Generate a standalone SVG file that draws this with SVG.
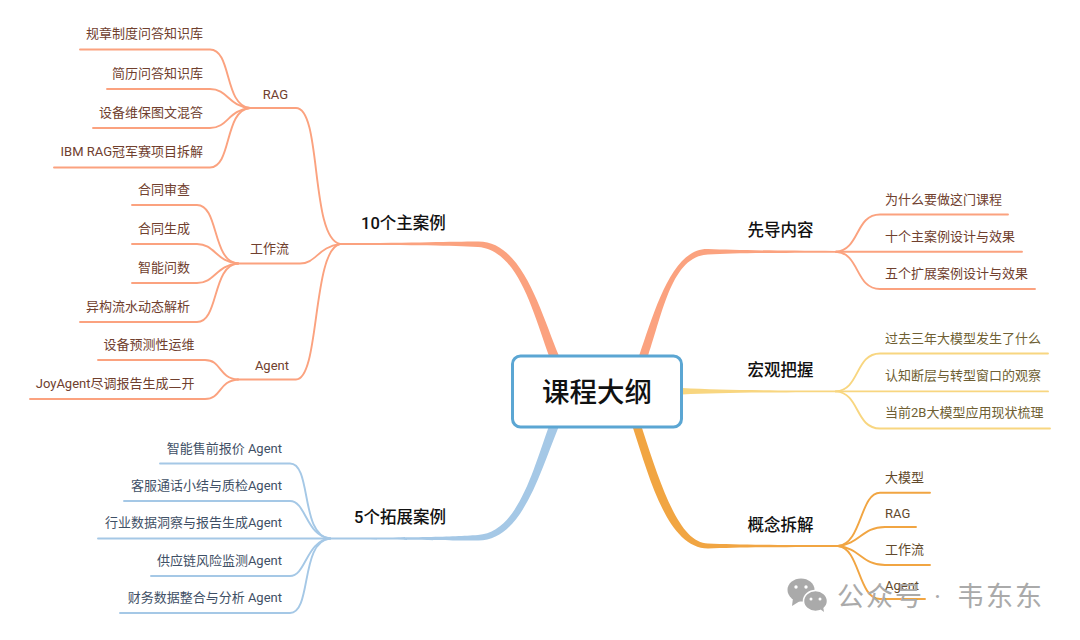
<svg xmlns="http://www.w3.org/2000/svg" width="1080" height="640" viewBox="0 0 1080 640">
<style>
text{font-family:Roboto,"Noto Sans CJK SC","Noto Sans",sans-serif}
.l{font-size:13px}
.e{text-anchor:end}
.h{font-size:16.5px;font-weight:500;fill:#111;text-anchor:middle}
.c{fill:none;stroke-width:1.9;stroke-linecap:round}
.s{stroke:#fba27f}.y{stroke:#f8d680}.o{stroke:#f1a542}.b{stroke:#a5c8e6}
.ts{fill:#70402e}.ty{fill:#6f5f33}.to{fill:#62492b}.tb{fill:#3f5066}
</style>
<rect width="1080" height="640" fill="#fff"/>
<g id="connectors">
<path fill="#fba27f" d="M549,356 C533,312 518,250 478,247 C450,245.4 420,245 340,244.9 V243.1 C420,243 450,241.5 478,241.5 C522,241 540,310 559,356Z"/>
<path fill="#a5c8e6" d="M549,426 C533,470 518,532 478,535 C450,537 420,537.5 330,537.6 V539.4 C420,539.5 450,540.5 478,540.5 C522,541 540,472 559,426Z"/>
<path fill="#fba27f" d="M648,356 C663,312 672,256 708,254.5 C735,253 770,252.8 836,252.7 V250.9 C770,250.8 735,250 708,249 C672,248 655,310 639,356Z"/>
<path fill="#f8d680" d="M682,388 C720,390 760,390.4 836,390.5 V392.3 C760,392.4 720,392.8 682,394.5Z"/>
<path fill="#f1a542" d="M633,428 C650,480 668,548 708,548.5 C735,547.5 770,546.9 838,546.9 V545.1 C770,545 735,544.6 708,543.5 C680,543 662,490 642,428Z"/>
<g class="s">
<path class="c" d="M250,108 H296 C322,108 310,238 340,244"/>
<path class="c" d="M238,263.5 H300 C316,263.5 318,247 340,244"/>
<path class="c" d="M238,379.5 H296 C320,379.5 312,250 340,244"/>
<path class="c" d="M80,49.5 H210 C232,49.5 224,106 250,108"/>
<path class="c" d="M107,89 H210 C228,89 228,106 250,108"/>
<path class="c" d="M93,128 H210 C228,128 228,110 250,108"/>
<path class="c" d="M54,167.5 H210 C232,167.5 224,110 250,108"/>
<path class="c" d="M132,205 H197 C219,205 212,262 238,263.5"/>
<path class="c" d="M132,244 H197 C215,244 216,262 238,263.5"/>
<path class="c" d="M132,283 H197 C215,283 216,265 238,263.5"/>
<path class="c" d="M80,322 H197 C219,322 212,265 238,263.5"/>
<path class="c" d="M98,360 H205 C222,360 218,378 238,379.5"/>
<path class="c" d="M30,399 H205 C222,399 218,381 238,379.5"/>
<path class="c" d="M836,251.7 C860,250 855,214.5 880,214.5 H1008"/>
<path class="c" d="M836,251.7 H1022"/>
<path class="c" d="M836,251.7 C860,253 855,289 880,289 H1035"/>
</g>
<g class="y">
<path class="c" d="M836,391.4 C860,390 855,353.5 880,353.5 H1048"/>
<path class="c" d="M836,391.4 H1048"/>
<path class="c" d="M836,391.4 C860,393 855,428.5 880,428.5 H1050"/>
</g>
<g class="o">
<path class="c" d="M838,546 C862,544 860,492.7 880,492.7 H930"/>
<path class="c" d="M838,546 C860,544 862,527 885,527 H916"/>
<path class="c" d="M838,546 C860,548 862,565 885,565 H930"/>
<path class="c" d="M838,546 C860,548 858,599 880,599 H925"/>
</g>
<g class="b">
<path class="c" d="M160,463.5 H290 C312,463.5 300,536 330,538.5"/>
<path class="c" d="M124,501 H290 C306,501 306,536 330,538.5"/>
<path class="c" d="M98,538.5 H330"/>
<path class="c" d="M151,576 H290 C306,576 306,541 330,538.5"/>
<path class="c" d="M120,613 H290 C312,613 300,541 330,538.5"/>
</g>
</g>
<g id="root"><rect x="512.5" y="356" width="169" height="71" rx="8" fill="#fff" stroke="#5ba6d3" stroke-width="3"/><text x="597" y="401.5" font-size="27.5" font-weight="500" fill="#111" text-anchor="middle">课程大纲</text></g>
<g id="n-main"><text class="h" x="403.5" y="229">10个主案例</text></g>
<g id="n-rag"><text class="l ts e" x="288" y="98.5">RAG</text></g>
<g id="n-flow"><text class="l ts e" x="289" y="252.5">工作流</text></g>
<g id="n-agent"><text class="l ts e" x="289" y="369.5">Agent</text></g>
<g id="n-r1"><text class="l ts e" x="203" y="38">规章制度问答知识库</text></g>
<g id="n-r2"><text class="l ts e" x="203" y="78">简历问答知识库</text></g>
<g id="n-r3"><text class="l ts e" x="203" y="117">设备维保图文混答</text></g>
<g id="n-r4"><text class="l ts e" x="203" y="156">IBM RAG冠军赛项目拆解</text></g>
<g id="n-f1"><text class="l ts e" x="190" y="193.5">合同审查</text></g>
<g id="n-f2"><text class="l ts e" x="190" y="232.5">合同生成</text></g>
<g id="n-f3"><text class="l ts e" x="190" y="272">智能问数</text></g>
<g id="n-f4"><text class="l ts e" x="190" y="311">异构流水动态解析</text></g>
<g id="n-a1"><text class="l ts e" x="194.5" y="348.5">设备预测性运维</text></g>
<g id="n-a2"><text class="l ts e" x="194.5" y="387.5">JoyAgent尽调报告生成二开</text></g>
<g id="n-ext"><text class="h" x="400" y="523">5个拓展案例</text></g>
<g id="n-e1"><text class="l tb e" x="282" y="452.5">智能售前报价 Agent</text></g>
<g id="n-e2"><text class="l tb e" x="282" y="489.5">客服通话小结与质检Agent</text></g>
<g id="n-e3"><text class="l tb e" x="282" y="527">行业数据洞察与报告生成Agent</text></g>
<g id="n-e4"><text class="l tb e" x="282" y="564.5">供应链风险监测Agent</text></g>
<g id="n-e5"><text class="l tb e" x="282" y="602">财务数据整合与分析 Agent</text></g>
<g id="n-pre"><text class="h" x="780.5" y="236">先导内容</text></g>
<g id="n-p1"><text class="l ts" x="885" y="203.5">为什么要做这门课程</text></g>
<g id="n-p2"><text class="l ts" x="885" y="240.5">十个主案例设计与效果</text></g>
<g id="n-p3"><text class="l ts" x="885" y="277.5">五个扩展案例设计与效果</text></g>
<g id="n-mac"><text class="h" x="780.5" y="376">宏观把握</text></g>
<g id="n-m1"><text class="l ty" x="885" y="343">过去三年大模型发生了什么</text></g>
<g id="n-m2"><text class="l ty" x="885" y="380">认知断层与转型窗口的观察</text></g>
<g id="n-m3"><text class="l ty" x="885" y="417">当前2B大模型应用现状梳理</text></g>
<g id="n-con"><text class="h" x="780.5" y="531">概念拆解</text></g>
<g id="n-c1"><text class="l to" x="885" y="481.5">大模型</text></g>
<g id="n-c2"><text class="l to" x="885" y="517.5">RAG</text></g>
<g id="n-c3"><text class="l to" x="885" y="553.5">工作流</text></g>
<g id="n-c4"><text class="l to" x="885" y="589.5">Agent</text></g>
<g id="watermark">
<ellipse cx="801" cy="590" rx="13.5" ry="11.5" fill="#aaa"/>
<path d="M793,598 L792,606 L800,601Z" fill="#aaa"/>
<ellipse cx="815.5" cy="601" rx="12" ry="10.5" fill="#aaa" stroke="#fff" stroke-width="1.5"/>
<path d="M820,609 L824,612 L823,606Z" fill="#aaa"/>
<circle cx="796" cy="587" r="1.7" fill="#fff"/><circle cx="806" cy="587" r="1.7" fill="#fff"/>
<circle cx="811" cy="599" r="1.5" fill="#fff"/><circle cx="820" cy="599" r="1.5" fill="#fff"/>
<text y="606" font-size="27" fill="#aaa" letter-spacing="2"><tspan x="837">公众号</tspan><tspan x="934">·</tspan><tspan x="957">韦东东</tspan></text>
</g>
</svg>
